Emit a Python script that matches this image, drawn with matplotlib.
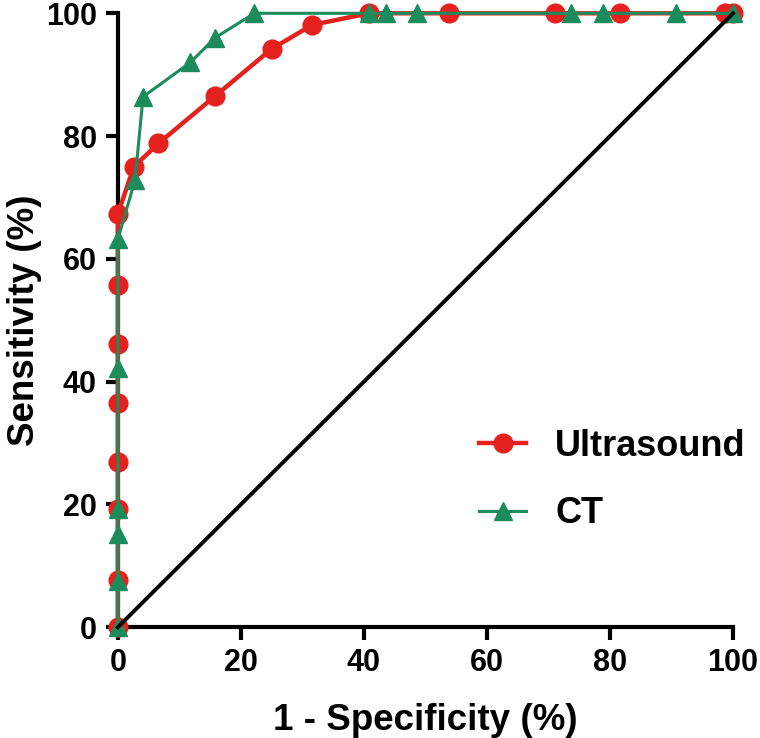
import matplotlib
matplotlib.use("Agg")
import matplotlib.pyplot as plt

# ROC data (1 - specificity %, sensitivity %)
us_fpr = [0, 0, 0, 0, 0, 0, 0, 0, 2.6, 6.6, 15.8, 25.0, 31.6, 40.8, 53.9, 71.1, 81.6, 98.7, 100]
us_tpr = [0, 7.7, 19.2, 26.9, 36.5, 46.2, 55.8, 67.3, 75.0, 78.8, 86.5, 94.2, 98.1, 100, 100, 100, 100, 100, 100]

ct_fpr = [0, 0, 0, 0, 0, 0, 2.8, 4.1, 11.8, 15.8, 22.2, 40.8, 43.6, 48.6, 73.6, 78.9, 90.7, 100]
ct_tpr = [0, 7.5, 15.2, 19.2, 42.2, 63.2, 72.8, 86.4, 92.0, 96.0, 100, 100, 100, 100, 100, 100, 100, 100]

ticks = [0, 20, 40, 60, 80, 100]

red = "#E5211E"
green = "#1C8C5C"
fonts = ["Liberation Sans", "DejaVu Sans"]

fig = plt.figure(figsize=(7.6, 7.38), dpi=100)
ax = fig.add_axes([0.155, 0.150, 0.8095, 0.832])

# chance line
ax.plot([0, 100], [0, 100], color="black", lw=2.8, zorder=6, clip_on=False)

ax.plot(us_fpr, us_tpr, color=red, lw=3.2, marker="o", markersize=13.5,
        label="Ultrasound", zorder=4, clip_on=False)
ax.plot(ct_fpr, ct_tpr, color=green, lw=2.2, marker="^", markersize=13.5,
        label="CT", zorder=5, clip_on=False)

ax.set_xlim(0, 100)
ax.set_ylim(0, 100)
ax.set_xticks(ticks)
ax.set_yticks(ticks)

for side in ["top", "right"]:
    ax.spines[side].set_visible(False)
for side in ["left", "bottom"]:
    ax.spines[side].set_linewidth(3)

ax.tick_params(axis="both", width=3, length=9, direction="out", pad=6)
for lab in ax.get_xticklabels() + ax.get_yticklabels():
    lab.set_fontfamily(fonts)
    lab.set_fontweight("bold")
    lab.set_fontsize(22)

ax.set_xlabel("1 - Specificity (%)", fontsize=26.5, fontweight="bold",
              family=fonts, labelpad=18)
ax.set_ylabel("Sensitivity (%)", fontsize=26.5, fontweight="bold",
              family=fonts, labelpad=3)

leg = ax.legend(loc="center left", bbox_to_anchor=(0.535, 0.24), frameon=False,
                prop={"family": fonts, "weight": "bold", "size": 26},
                handlelength=1.3, handletextpad=0.8, labelspacing=0.9)

fig.savefig("out.png", dpi=100)
